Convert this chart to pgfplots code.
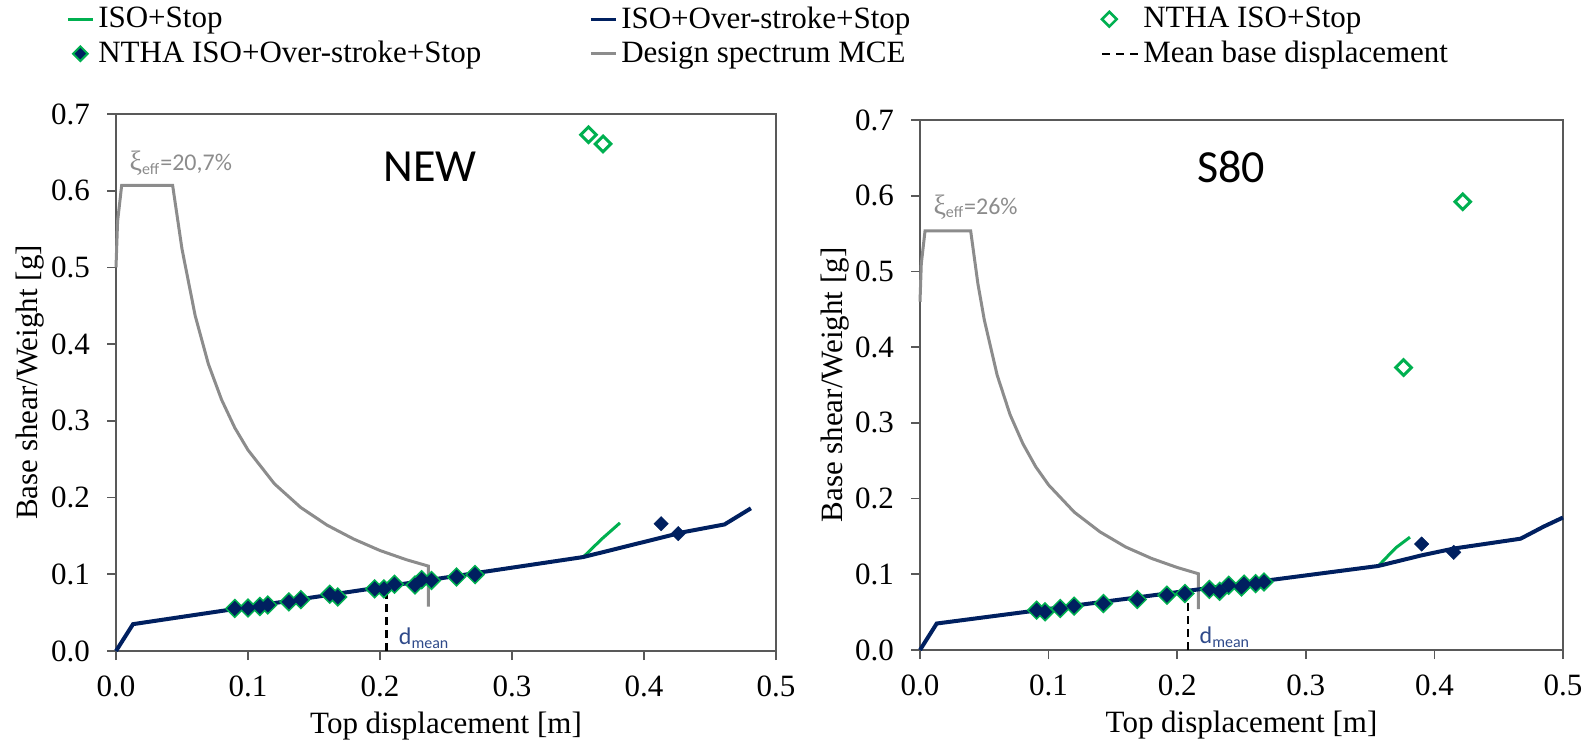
\documentclass[border=0pt]{standalone}
\usepackage{fontspec}
\setmainfont{Liberation Serif}
\newfontfamily\calibri{Carlito}
\usepackage{pgfplots}
\pgfplotsset{compat=1.18}

\definecolor{isogreen}{HTML}{00B050}
\definecolor{navy}{HTML}{002060}
\definecolor{specgray}{HTML}{8C8C8C}
\definecolor{framegray}{HTML}{595959}
\definecolor{dmeancol}{HTML}{2F4A8A}

\pgfplotsset{
  shortline/.style={legend image code/.code={\draw[##1] (0pt,0pt) -- (12.5pt,0pt);}},
  shortmark/.style={legend image code/.code={\draw[##1] plot coordinates {(6.25pt,0pt)};}},
  leftmark/.style={legend image code/.code={\draw[##1] plot coordinates {(3.5pt,0pt)};
    \path[draw=none, fill=none] (0pt,0pt) -- (18pt,0pt);}},
  longdash/.style={legend image code/.code={\draw[##1] (0pt,0pt) -- (18pt,0pt);}},
  panel/.style={
    scale only axis,
    xmin=0, xmax=0.5, ymin=0, ymax=0.7,
    xtick={0,0.1,0.2,0.3,0.4,0.5},
    xticklabels={0.0,0.1,0.2,0.3,0.4,0.5},
    ytick={0,0.1,0.2,0.3,0.4,0.5,0.6,0.7},
    yticklabels={0.0,0.1,0.2,0.3,0.4,0.5,0.6,0.7},
    tick align=outside, major tick length=4.5pt,
    xtick pos=bottom, ytick pos=left,
    axis line style={framegray, line width=0.8pt},
    every tick/.style={framegray, line width=0.8pt},
    ticklabel style={font=\fontsize{15.5}{18}\selectfont},
    xticklabel style={yshift=-4.5pt},
    yticklabel style={xshift=-5pt},
    label style={font=\fontsize{15.5}{18}\selectfont},
    xlabel={Top displacement [m]},
    ylabel={Base shear/Weight [g]},
    clip=false,
  },
  nthastop/.style={only marks, mark=square*, mark size=2.75pt,
    mark options={rotate=45, draw=isogreen, fill=white, line width=1.5pt}},
  nthaover/.style={only marks, mark=square*, mark size=2.55pt,
    mark options={rotate=45, draw=navy, fill=navy, line width=0.2pt}},
}

% Pushover curves and NTHA peaks, configuration NEW
\pgfplotstableread{
x y
0 0
0.0129 0.035
0.354 0.1225
0.43 0.155
0.461 0.165
0.481 0.186
}\overNEW
\pgfplotstableread{
x y
0.354 0.1225
0.368 0.146
0.3818 0.167
}\stopNEW
\pgfplotstableread{
x y
0 0.50
0.0012 0.56
0.0043 0.607
0.0429 0.607
0.05 0.524
0.06 0.437
0.07 0.374
0.08 0.3275
0.09 0.291
0.10 0.262
0.12 0.218
0.14 0.187
0.16 0.164
0.18 0.146
0.20 0.131
0.22 0.119
0.2366 0.1107
0.2366 0.058
}\specNEW
\pgfplotstableread{
x y
0.090 0.0555
0.100 0.056
0.109 0.058
0.115 0.060
0.131 0.064
0.140 0.067
0.162 0.074
0.168 0.0705
0.196 0.081
0.203 0.081
0.211 0.087
0.2265 0.086
0.2316 0.093
0.239 0.092
0.258 0.0965
0.272 0.0996
}\lowNEW
\pgfplotstableread{
x y
0.358 0.673
0.369 0.661
}\highstopNEW
\pgfplotstableread{
x y
0.413 0.166
0.426 0.153
}\highoverNEW

% Configuration S80
\pgfplotstableread{
x y
0 0
0.013 0.035
0.3564 0.111
0.39 0.125
0.415 0.134
0.467 0.147
0.485 0.163
0.5 0.175
}\overSEighty
\pgfplotstableread{
x y
0.3564 0.111
0.362 0.121
0.370 0.135
0.381 0.149
}\stopSEighty
\pgfplotstableread{
x y
0 0.46
0.001 0.51
0.0039 0.5535
0.0394 0.5535
0.045 0.484
0.05 0.436
0.06 0.363
0.07 0.311
0.08 0.2725
0.09 0.242
0.10 0.218
0.12 0.182
0.14 0.156
0.16 0.136
0.18 0.121
0.20 0.109
0.2165 0.1007
0.2165 0.054
}\specSEighty
\pgfplotstableread{
x y
0.0907 0.0526
0.0972 0.0504
0.109 0.0548
0.1198 0.0579
0.1426 0.0614
0.169 0.0667
0.192 0.0724
0.206 0.0746
0.225 0.080
0.233 0.0776
0.240 0.0855
0.250 0.0833
0.252 0.087
0.261 0.0877
0.2675 0.0899
}\lowSEighty
\pgfplotstableread{
x y
0.376 0.373
0.422 0.592
}\highstopSEighty
\pgfplotstableread{
x y
0.390 0.140
0.415 0.129
}\highoverSEighty

\begin{document}
\begin{tikzpicture}
\path[use as bounding box] (0pt,0pt) rectangle (798pt,-372pt);

\begin{axis}[panel,
  width=330pt, height=268.5pt,
  at={(58pt,-325.5pt)}, anchor=south west,
  ylabel style={at={(axis description cs:-0.13,0.5)}, anchor=center},
  xlabel style={at={(axis description cs:0.5,-0.14)}, anchor=center},
  legend columns=3,
  legend cell align=left,
  legend style={at={(axis description cs:-0.085,1.215)}, anchor=north west,
    draw=none, fill=none, font=\fontsize{15.5}{18}\selectfont,
    row sep=1pt, /tikz/every even column/.append style={column sep=0pt}},
]
\addlegendimage{shortline, isogreen, line width=1.5pt}
\addlegendentry{\makebox[243.5pt][l]{ISO+Stop}}
\addlegendimage{shortline, navy, line width=1.5pt}
\addlegendentry{\makebox[238pt][l]{ISO+Over-stroke+Stop}}
\addlegendimage{leftmark, only marks, mark=square*, mark size=2.6pt,
  mark options={rotate=45, draw=isogreen, fill=white, line width=1.3pt}}
\addlegendentry{NTHA ISO+Stop}
\addlegendimage{shortmark, only marks, mark=square*, mark size=2.6pt,
  mark options={rotate=45, draw=isogreen, fill=navy, line width=1pt}}
\addlegendentry{\makebox[243.5pt][l]{NTHA ISO+Over-stroke+Stop}}
\addlegendimage{shortline, specgray, line width=1.5pt}
\addlegendentry{\makebox[238pt][l]{Design spectrum MCE}}
\addlegendimage{longdash, black, line width=1pt, dash pattern=on 4pt off 3pt}
\addlegendentry{Mean base displacement}

\addplot[forget plot, specgray, line width=1.5pt] table {\specNEW};
\addplot[forget plot, black, line width=1.1pt, dash pattern=on 4pt off 2.5pt]
  coordinates {(0.205,0) (0.205,0.077)};
\addplot[forget plot, isogreen, line width=1.5pt] table {\stopNEW};
\addplot[forget plot, navy, line width=2pt] table {\overNEW};
\addplot[forget plot, nthastop] table {\lowNEW};
\addplot[forget plot, nthastop] table {\highstopNEW};
\addplot[forget plot, nthaover] table {\lowNEW};
\addplot[forget plot, nthaover] table {\highoverNEW};

\node[font=\calibri\fontsize{23}{26}\selectfont] at (axis cs:0.238,0.631) {NEW};
\node[font=\calibri\fontsize{12}{14}\selectfont, text=specgray, anchor=west]
  at (axis cs:0.005,0.636) {{\fontspec{Liberation Serif}\fontsize{14}{14}\selectfont ξ}\textsubscript{eff}=20,7\%};
\node[font=\calibri\fontsize{12}{14}\selectfont, text=dmeancol, anchor=west]
  at (axis cs:0.209,0.017) {d\textsubscript{mean}};
\end{axis}

\begin{axis}[panel,
  width=321.5pt, height=265pt,
  at={(460pt,-325pt)}, anchor=south west,
  ylabel style={at={(axis description cs:-0.132,0.5)}, anchor=center},
  xlabel style={at={(axis description cs:0.5,-0.142)}, anchor=center},
]
\addplot[specgray, line width=1.5pt] table {\specSEighty};
\addplot[black, line width=1.1pt, dash pattern=on 4pt off 2.5pt]
  coordinates {(0.2087,0) (0.2087,0.07)};
\addplot[isogreen, line width=1.5pt] table {\stopSEighty};
\addplot[navy, line width=2pt] table {\overSEighty};
\addplot[nthastop] table {\lowSEighty};
\addplot[nthastop] table {\highstopSEighty};
\addplot[nthaover] table {\lowSEighty};
\addplot[nthaover] table {\highoverSEighty};

\node[font=\calibri\fontsize{23}{26}\selectfont] at (axis cs:0.242,0.638) {S80};
\node[font=\calibri\fontsize{12}{14}\selectfont, text=specgray, anchor=west]
  at (axis cs:0.005,0.585) {{\fontspec{Liberation Serif}\fontsize{14}{14}\selectfont ξ}\textsubscript{eff}=26\%};
\node[font=\calibri\fontsize{12}{14}\selectfont, text=dmeancol, anchor=west]
  at (axis cs:0.212,0.017) {d\textsubscript{mean}};
\end{axis}
\end{tikzpicture}
\end{document}
